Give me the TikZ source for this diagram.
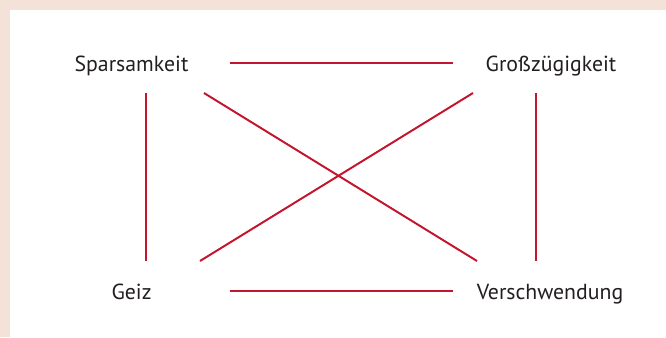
\documentclass[tikz,border=0pt]{standalone}
\usepackage{fontspec}
\setmainfont{PT Sans}
\usepackage{xcolor}
\definecolor{rahmen}{HTML}{F4E1D7}
\definecolor{linie}{HTML}{C4152E}
\definecolor{schrift}{HTML}{231F20}

\begin{document}
\begin{tikzpicture}[x=0.025cm,y=-0.025cm,line cap=butt]
\tikzset{
  begriff/.style={anchor=base,text=schrift,font=\fontsize{15.5}{18}\selectfont,inner sep=0pt},
  bezug/.style={draw=linie,line width=1.4pt}
}
\useasboundingbox (0,0) rectangle (666,337);
\fill[rahmen] (0,0) rectangle (666,337);
\fill[white] (10,10) rectangle (666,337);
% Begriffe
\node[begriff] (spar) at (131.5,71) {Sparsamkeit};
\node[begriff] (gross) at (551,71) {Großzügigkeit};
\node[begriff] (geiz) at (131.5,299) {Geiz};
\node[begriff] (versch) at (550,299) {Verschwendung};
% Enden der Linien
\coordinate (sparR) at (230,63);
\coordinate (grossL) at (453,63);
\coordinate (geizR) at (230,291);
\coordinate (verschL) at (453,291);
\coordinate (sparU) at (146,93);
\coordinate (geizO) at (146,261);
\coordinate (grossU) at (536,93);
\coordinate (verschO) at (536,261);
\coordinate (sparD) at (204,93);
\coordinate (verschD) at (477,261);
\coordinate (grossD) at (473,93);
\coordinate (geizD) at (200,261);
% Linien
\draw[bezug] (sparR) -- (grossL);
\draw[bezug] (geizR) -- (verschL);
\draw[bezug] (sparU) -- (geizO);
\draw[bezug] (grossU) -- (verschO);
\draw[bezug] (sparD) -- (verschD);
\draw[bezug] (grossD) -- (geizD);
\end{tikzpicture}
\end{document}
